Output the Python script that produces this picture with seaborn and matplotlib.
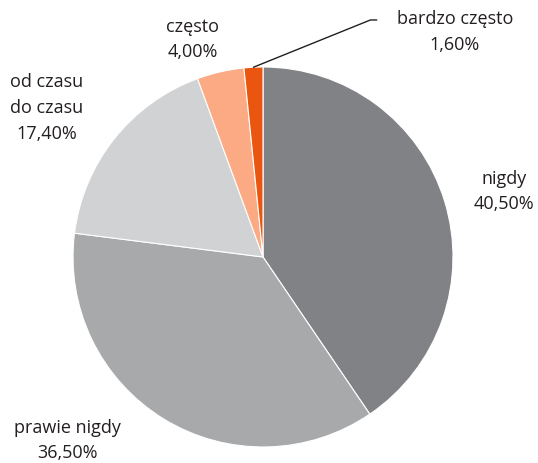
import matplotlib.pyplot as plt
import numpy as np
import seaborn as sns

categories = ["nigdy", "prawie nigdy", "od czasu\ndo czasu", "często", "bardzo często"]
values = [40.5, 36.5, 17.4, 4.0, 1.6]
colors = ["#818285", "#a8a9ab", "#d1d2d4", "#fbaa83", "#ea560f"]

# label positions (data coords, pie radius = 1)
label_pos = [(1.27, 0.35), (-1.03, -0.96), (-1.14, 0.79), (-0.37, 1.15), (1.01, 1.19)]

sns.set_theme(style="white")
plt.rcParams["font.family"] = ["Open Sans", "DejaVu Sans"]

fig = plt.figure(figsize=(5.38, 4.64), dpi=100)
ax = fig.add_axes([0.1357, 0.0345, 0.7063, 0.819])

wedges, _ = ax.pie(
    values,
    colors=colors,
    startangle=90,
    counterclock=False,
    radius=1,
    wedgeprops={"edgecolor": "white", "linewidth": 0.8},
)
ax.set_xlim(-1, 1)
ax.set_ylim(-1, 1)
ax.set_aspect("equal")
ax.axis("off")

for i, (cat, val) in enumerate(zip(categories, values)):
    txt = f"{cat}\n{val:.2f}%".replace(".", ",")
    x, y = label_pos[i]
    if i == 4:
        w = wedges[i]
        ang = np.deg2rad((w.theta1 + w.theta2) / 2)
        ax.annotate(
            txt,
            xy=(np.cos(ang), np.sin(ang)),
            xytext=(x, y),
            ha="center",
            va="center",
            fontsize=13,
            color="#231f20",
            linespacing=1.55,
            annotation_clip=False,
            arrowprops=dict(arrowstyle="-", color="#231f20", lw=1,
                            connectionstyle="angle,angleA=0,angleB=22,rad=0",
                            relpos=(0.0, 0.75), shrinkA=12, shrinkB=0),
        )
    else:
        ax.text(x, y, txt, ha="center", va="center", fontsize=13,
                color="#231f20", linespacing=1.55)

plt.savefig("out.png", dpi=100)
